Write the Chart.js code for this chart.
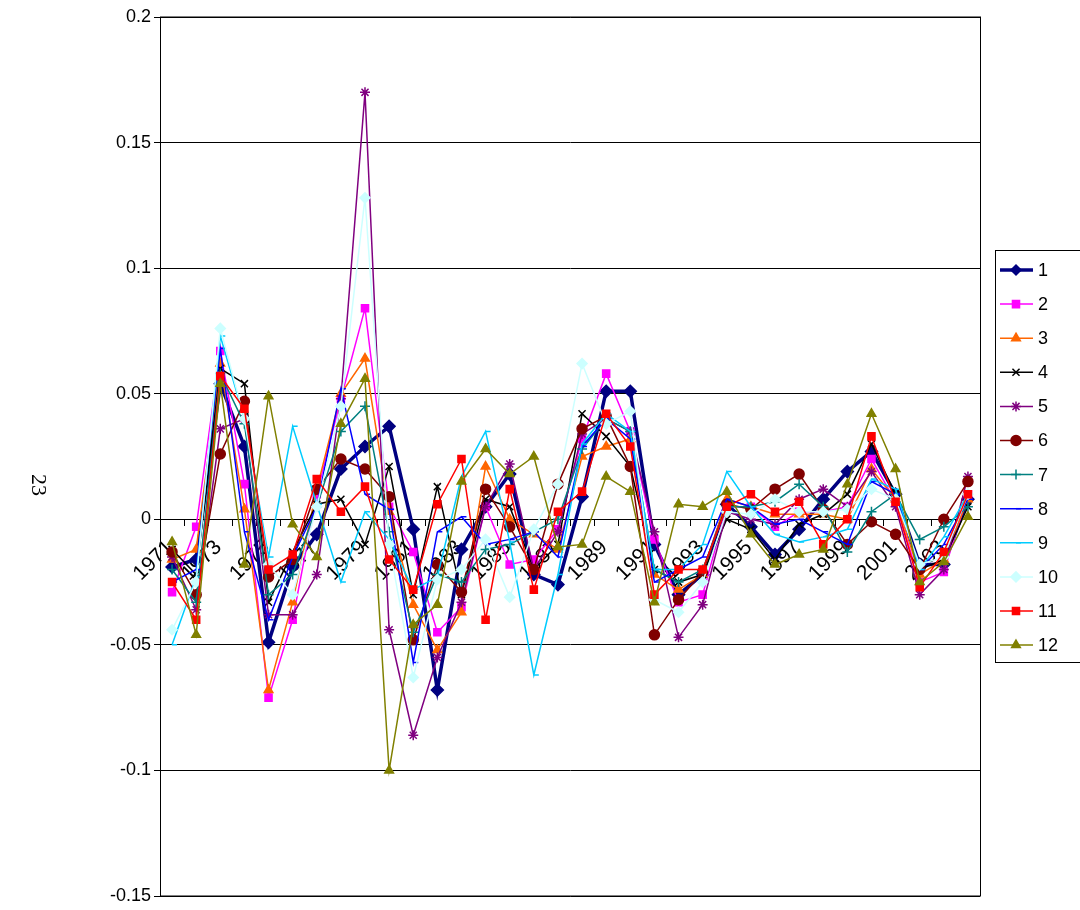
<!DOCTYPE html>
<html><head><meta charset="utf-8">
<script src="https://cdn.jsdelivr.net/npm/chart.js@4"></script>
<style>html,body{margin:0;padding:0;background:#fff}</style>
</head><body>
<div style="width:1080px;height:910px"><canvas id="c"></canvas></div>
<script>
const years = [];
for (let y = 1971; y <= 2004; y++) years.push(String(y));
const s1 = [-0.019,-0.016,0.054,0.029,-0.049,-0.019,-0.006,0.020,0.029,0.037,-0.004,-0.068,-0.012,0.005,0.018,-0.022,-0.026,0.009,0.051,0.051,-0.010,-0.030,-0.022,0.006,-0.003,-0.014,-0.004,0.008,0.019,0.027,0.010,-0.018,-0.018,0.008];
const s2 = [-0.029,-0.003,0.067,0.014,-0.071,-0.040,0.010,0.048,0.084,0.005,-0.013,-0.045,-0.035,0.005,-0.018,-0.016,-0.004,0.032,0.058,0.035,-0.008,-0.033,-0.030,0.005,0.005,-0.003,0.003,0.003,0.005,0.024,0.007,-0.025,-0.021,0.010];
const s3 = [-0.016,-0.012,0.062,0.004,-0.068,-0.033,0.012,0.050,0.064,0.003,-0.034,-0.052,-0.037,0.021,0.000,-0.006,-0.012,0.025,0.029,0.032,-0.022,-0.028,-0.022,0.008,0.005,0.002,0.002,0.002,0.000,0.020,0.008,-0.022,-0.016,0.008];
const s4 = [-0.012,-0.022,0.060,0.054,-0.033,-0.013,0.006,0.008,-0.010,0.021,-0.030,0.013,-0.030,0.008,0.005,-0.020,-0.010,0.042,0.033,0.021,-0.020,-0.025,-0.022,0.000,-0.004,-0.016,-0.002,0.002,0.010,0.030,0.010,-0.020,-0.016,0.005];
const s5 = [-0.015,-0.036,0.036,0.040,-0.038,-0.038,-0.022,0.048,0.170,-0.044,-0.086,-0.055,-0.033,0.005,0.022,-0.020,-0.005,0.034,0.040,0.035,-0.005,-0.047,-0.034,0.003,0.000,-0.002,0.008,0.012,0.005,0.019,0.005,-0.030,-0.020,0.017];
const s6 = [-0.013,-0.030,0.026,0.047,-0.023,-0.016,0.012,0.024,0.020,0.009,-0.048,-0.018,-0.029,0.012,-0.003,-0.020,0.014,0.036,0.041,0.021,-0.046,-0.032,-0.021,0.006,0.004,0.012,0.018,0.004,-0.010,-0.001,-0.006,-0.020,0.000,0.015];
const s7 = [-0.020,-0.033,0.058,0.038,-0.030,-0.022,0.005,0.035,0.045,-0.005,-0.045,-0.022,-0.025,-0.012,-0.010,-0.005,0.000,0.028,0.040,0.035,-0.020,-0.025,-0.020,0.005,0.005,0.007,0.014,0.005,-0.013,0.003,0.010,-0.008,-0.003,0.005];
const s8 = [-0.025,-0.020,0.068,-0.005,-0.040,-0.015,0.005,0.052,0.010,0.004,-0.057,-0.005,0.001,-0.010,-0.008,-0.005,-0.015,0.029,0.040,0.032,-0.025,-0.020,-0.015,0.008,0.005,-0.002,0.000,-0.005,-0.010,0.015,0.010,-0.020,-0.010,0.008];
const s9 = [-0.050,-0.023,0.073,0.040,-0.015,0.037,0.006,-0.025,0.003,-0.008,-0.028,-0.023,0.017,0.035,-0.009,-0.062,-0.022,0.030,0.042,0.035,-0.020,-0.020,-0.010,0.019,0.005,-0.006,-0.009,-0.007,-0.004,0.016,0.012,-0.020,-0.007,0.010];
const s10 = [-0.044,-0.025,0.076,0.040,-0.018,-0.030,0.005,0.045,0.128,-0.010,-0.063,-0.024,-0.020,-0.008,-0.031,-0.004,0.014,0.062,0.038,0.043,-0.032,-0.037,-0.025,0.003,0.002,0.008,0.003,0.003,0.004,0.012,0.008,-0.018,-0.015,0.010];
const s11 = [-0.025,-0.040,0.057,0.044,-0.020,-0.014,0.016,0.003,0.013,-0.016,-0.028,0.006,0.024,-0.040,0.012,-0.028,0.003,0.011,0.042,0.029,-0.030,-0.020,-0.020,0.005,0.010,0.003,0.007,-0.010,0.000,0.033,0.007,-0.027,-0.013,0.010];
const s12 = [-0.009,-0.046,0.054,-0.018,0.049,-0.002,-0.015,0.038,0.056,-0.100,-0.042,-0.034,0.015,0.028,0.018,0.025,-0.011,-0.010,0.017,0.011,-0.033,0.006,0.005,0.011,-0.006,-0.018,-0.014,-0.012,0.014,0.042,0.020,-0.025,-0.017,0.001];
const seriesNames = ['1','2','3','4','5','6','7','8','9','10','11','12'];
const seriesData = [s1,s2,s3,s4,s5,s6,s7,s8,s9,s10,s11,s12];
const colors = ['#000080','#FF00FF','#FF6600','#000000','#800080','#800000','#008080','#0000FF','#00CCFF','#CCFFFF','#FF0000','#808000'];
const styles = ['rectRot','rect','triangle','crossRot','star','circle','cross','dash','dash','rectRot','rect','triangle'];

const datasets = seriesData.map((d,i)=>({
  label: seriesNames[i], data: d, borderColor: colors[i], backgroundColor: colors[i],
  borderWidth: i===0?3.5:1.5, pointStyle: styles[i], pointRadius: i===0?6:5,
  pointBorderWidth: 1.5, tension: 0, order: 12-i
}));

const legendPlugin = {
  id:'legendBox',
  afterDraw(chart){
    const ctx = chart.ctx;
    const x0=995, y0=250, w=90, h=412, step=34.1;
    ctx.save();
    ctx.strokeStyle='#000'; ctx.lineWidth=1;
    ctx.strokeRect(x0+0.5,y0+0.5,w,h);
    ctx.font='18px "Liberation Sans", Arial'; ctx.textBaseline='middle'; ctx.fillStyle='#000';
    for(let i=0;i<12;i++){
      const y=y0+20+i*step;
      ctx.strokeStyle=colors[i]; ctx.lineWidth=i===0?3.5:1.5;
      ctx.beginPath(); ctx.moveTo(x0+5,y); ctx.lineTo(x0+38,y); ctx.stroke();
      ctx.fillStyle=colors[i]; ctx.strokeStyle=colors[i]; ctx.lineWidth=1.5;
      Chart.helpers.drawPoint(ctx,{pointStyle:styles[i],radius:5,rotation:0,borderWidth:1.5},x0+21,y);
      ctx.fillStyle='#000';
      ctx.fillText(seriesNames[i],x0+43,y+1);
    }
    ctx.translate(38,485); ctx.rotate(Math.PI/2);
    ctx.textAlign='center'; ctx.font='22px "Liberation Serif", serif';
    ctx.fillText('23',0,0);
    ctx.restore();
    const a=chart.chartArea;
    ctx.save(); ctx.strokeStyle='#000'; ctx.lineWidth=1;
    ctx.strokeRect(a.left+0.5,a.top,a.right-a.left,a.bottom-a.top);
    ctx.restore();
  }
};

new Chart(document.getElementById('c'),{
  type:'line',
  data:{labels:years,datasets},
  options:{
    responsive:true, maintainAspectRatio:false, animation:false,
    layout:{padding:{left:0,right:100,top:17,bottom:14}},
    plugins:{legend:{display:false},tooltip:{enabled:false}},
    scales:{
      x:{position:{y:0}, offset:true,
        grid:{display:true,drawOnChartArea:false,drawTicks:true,tickLength:6,color:'#000',offset:true},
        border:{color:'#000'},
        ticks:{autoSkip:false,maxRotation:45,minRotation:45,color:'#000',padding:10,labelOffset:-2,
          font:{size:21,family:'"Liberation Sans", Arial'},
          callback:function(v,i){return i%2===0?this.getLabelForValue(v):'';}}
      },
      y:{min:-0.15,max:0.2,
        afterFit(s){s.width=160;},
        grid:{color:'#000',drawTicks:true,tickLength:6},
        border:{color:'#000'},
        ticks:{stepSize:0.05,color:'#000',font:{size:18,family:'"Liberation Sans", Arial'},
          callback:v=>{const r=Math.round(v*100)/100; return r===0?'0':String(r);}}
      }
    }
  },
  plugins:[legendPlugin]
});
</script>
</body></html>
